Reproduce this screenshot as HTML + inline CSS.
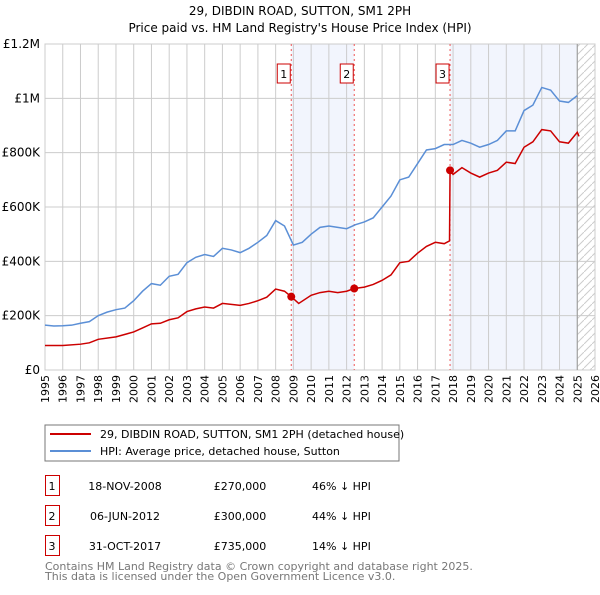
<!DOCTYPE html>
<html><head><meta charset="utf-8"><style>
body{margin:0;background:#fff}
svg text{font-family:"DejaVu Sans","Liberation Sans",sans-serif}
</style></head><body>
<svg id="c" width="600" height="590" xmlns="http://www.w3.org/2000/svg">
<text x="300" y="15" text-anchor="middle" font-size="12">29, DIBDIN ROAD, SUTTON, SM1 2PH</text>
<text x="300" y="32" text-anchor="middle" font-size="12">Price paid vs. HM Land Registry's House Price Index (HPI)</text>
<g id="plot"></g>
<rect x="45" y="425" width="354" height="36" fill="#fff" stroke="#777"/>
<line x1="50" y1="434" x2="91" y2="434" stroke="#cc0000" stroke-width="2"/>
<text x="100" y="438" font-size="11">29, DIBDIN ROAD, SUTTON, SM1 2PH (detached house)</text>
<line x1="50" y1="451" x2="91" y2="451" stroke="#5b8fd6" stroke-width="2"/>
<text x="100" y="455" font-size="11">HPI: Average price, detached house, Sutton</text>
<g font-size="11">
<rect x="45.5" y="475.5" width="14" height="20" fill="none" stroke="#cc0000"/><text x="52" y="490" text-anchor="middle">1</text>
<text x="125" y="490" text-anchor="middle">18-NOV-2008</text><text x="240" y="490" text-anchor="middle">£270,000</text><text x="312" y="490">46% ↓ HPI</text>
<rect x="45.5" y="505.5" width="14" height="20" fill="none" stroke="#cc0000"/><text x="52" y="520" text-anchor="middle">2</text>
<text x="125" y="520" text-anchor="middle">06-JUN-2012</text><text x="240" y="520" text-anchor="middle">£300,000</text><text x="312" y="520">44% ↓ HPI</text>
<rect x="45.5" y="535.5" width="14" height="20" fill="none" stroke="#cc0000"/><text x="52" y="550" text-anchor="middle">3</text>
<text x="125" y="550" text-anchor="middle">31-OCT-2017</text><text x="240" y="550" text-anchor="middle">£735,000</text><text x="312" y="550">14% ↓ HPI</text>
</g>
<text x="45" y="570" font-size="11" fill="#777">Contains HM Land Registry data © Crown copyright and database right 2025.</text>
<text x="45" y="580" font-size="11" fill="#777">This data is licensed under the Open Government Licence v3.0.</text>
</svg>
<script>
const hpiYears=[1995,1995.5,1996,1996.5,1997,1997.5,1998,1998.5,1999,1999.5,2000,2000.5,2001,2001.5,2002,2002.5,2003,2003.5,2004,2004.5,2005,2005.5,2006,2006.5,2007,2007.5,2008,2008.5,2009,2009.5,2010,2010.5,2011,2011.5,2012,2012.5,2013,2013.5,2014,2014.5,2015,2015.5,2016,2016.5,2017,2017.5,2018,2018.5,2019,2019.5,2020,2020.5,2021,2021.5,2022,2022.5,2023,2023.5,2024,2024.5,2025];
const hpiValues=[165,162,163,165,172,178,200,213,222,228,255,290,318,312,345,352,395,415,425,418,448,442,432,448,470,495,550,530,460,470,500,525,530,525,520,535,545,560,600,640,700,710,760,810,815,830,830,845,835,820,830,845,880,880,955,975,1040,1030,990,985,1010];
const priceYears=[1995,1996,1997,1997.5,1998,1999,2000,2000.5,2001,2001.5,2002,2002.5,2003,2003.5,2004,2004.5,2005,2006,2006.5,2007,2007.5,2008,2008.5,2008.88,2009.3,2010,2010.5,2011,2011.5,2012,2012.43,2013,2013.5,2014,2014.5,2015,2015.5,2016,2016.5,2017,2017.5,2017.8,2017.83,2018,2018.5,2019,2019.5,2020,2020.5,2021,2021.5,2022,2022.5,2023,2023.5,2024,2024.5,2025,2025.1];
const priceValues=[90,90,95,100,113,122,140,155,170,172,185,192,215,225,232,228,245,238,245,255,268,298,290,270,245,275,285,290,285,290,300,305,315,330,350,395,400,430,455,470,465,475,735,720,745,725,710,725,735,765,760,820,840,885,880,840,835,875,860];
const saleYears=[2008.88,2012.43,2017.83];
const saleValues=[270,300,735];
const saleLabels=["1","2","3"];
const yTicks=[0,200,400,600,800,1000,1200];
const yTickLabels=["£0","£200K","£400K","£600K","£800K","£1M","£1.2M"];
const xTicks=[1995,1996,1997,1998,1999,2000,2001,2002,2003,2004,2005,2006,2007,2008,2009,2010,2011,2012,2013,2014,2015,2016,2017,2018,2019,2020,2021,2022,2023,2024,2025,2026];
const L=45,R=595,T=44,B=370,dataEnd=2025.0;
const X=y=>L+(y-1995)/(2026-1995)*(R-L);
const Y=v=>B-v/1200*(B-T);
const NS="http://www.w3.org/2000/svg";
const g=document.getElementById('plot');
function mk(t,a){const e=document.createElementNS(NS,t);for(const k in a)e.setAttribute(k,a[k]);g.appendChild(e);return e;}
let e;
e=mk('rect',{x:L,y:T,width:R-L,height:B-T,fill:'#fff',stroke:'#ccc'});


e=mk('rect',{x:X(saleYears[0]),y:T,width:X(saleYears[1])-X(saleYears[0]),height:B-T,fill:'#f2f5fd'});


e=mk('rect',{x:X(saleYears[2]),y:T,width:X(dataEnd)-X(saleYears[2]),height:B-T,fill:'#f2f5fd'});


const defs=mk('defs',{});
defs.innerHTML='<pattern id="h" width="8" height="8" patternUnits="userSpaceOnUse"><path d="M0,8 L8,0" stroke="#ccc" stroke-width="1"/></pattern>';
e=mk('rect',{x:X(dataEnd),y:T,width:R-X(dataEnd),height:B-T,fill:'url(#h)'});


xTicks.forEach(t=>{e=mk('line',{x1:X(t),x2:X(t),y1:T,y2:B,stroke:'#ccc'});


e=mk('text',{x:0,y:0,'font-size':11,'text-anchor':'end',transform:`translate(${X(t)+4},${B+5}) rotate(-90)`});e.textContent=t;

});
yTicks.forEach((t,i)=>{e=mk('line',{x1:L,x2:R,y1:Y(t),y2:Y(t),stroke:'#ccc'});


e=mk('text',{x:L-5,y:Y(t)+4,'font-size':12,'text-anchor':'end'});e.textContent=yTickLabels[i];

});
e=mk('line',{x1:X(dataEnd),x2:X(dataEnd),y1:T,y2:B,stroke:'#999'});


saleYears.forEach((s,i)=>{e=mk('line',{x1:X(s),x2:X(s),y1:T,y2:B,stroke:'#e55','stroke-dasharray':'2,3'});


e=mk('rect',{x:X(s)-14,y:64,width:13,height:19,fill:'#fff',stroke:'#cc0000'});


e=mk('text',{x:X(s)-7.5,y:78,'font-size':11,'text-anchor':'middle'});e.textContent=saleLabels[i];

});
e=mk('polyline',{points:hpiYears.map((y,i)=>X(y)+','+Y(hpiValues[i])).join(' '),fill:'none',stroke:'#5b8fd6','stroke-width':1.5});


e=mk('polyline',{points:priceYears.map((y,i)=>X(y)+','+Y(priceValues[i])).join(' '),fill:'none',stroke:'#cc0000','stroke-width':1.5});


saleYears.forEach((s,i)=>{e=mk('circle',{cx:X(s),cy:Y(saleValues[i]),r:4,fill:'#cc0000'});

});
</script>
</body></html>
